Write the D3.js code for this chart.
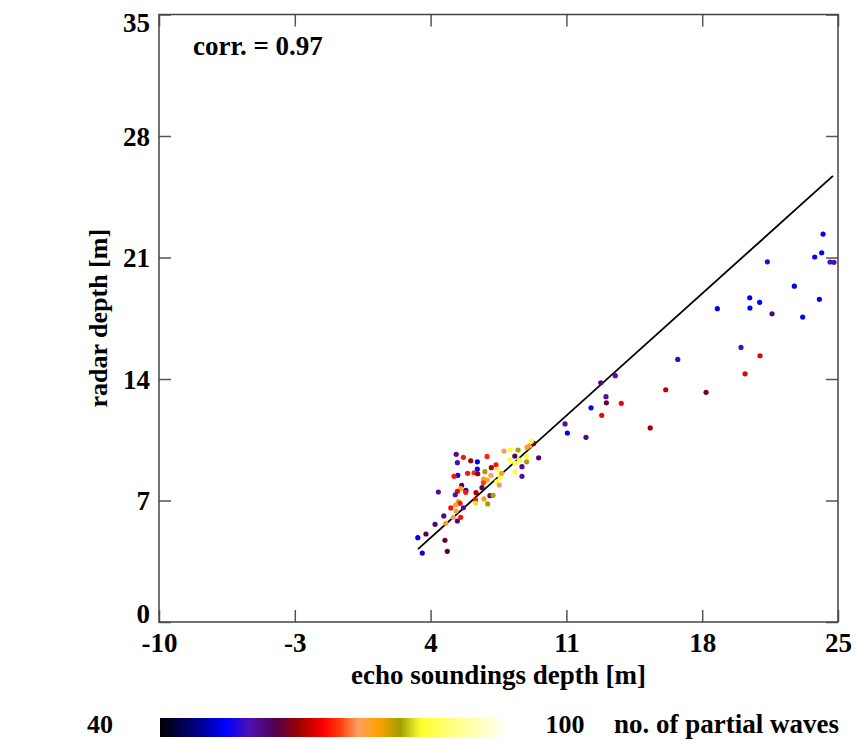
<!DOCTYPE html>
<meta charset="utf-8">
<head>
  <script src="https://d3js.org/d3.v7.min.js"></script>
  <style>
    body { margin: 0; background: #fff; }
    text { font-family: "Liberation Serif", "Times New Roman", serif; font-weight: bold; fill: #000; }
  </style>
</head>
<body>
  <div id="my_dataviz"></div>
</body>
<script>

// echo soundings depth [m]
var echoDepth = [
  24.23, 24.16, 23.80, 24.59, 24.79, 21.36, 22.75, 20.45, 20.96, 18.78,
  20.46, 24.04, 21.60, 23.18, 20.00, 20.98, 20.21, 18.20, 16.74, 16.12,
  15.32, 13.52, 12.77, 13.04, 13.06, 13.83, 12.27, 12.82, 10.93, 11.05,
  12.01, 3.34, 3.57, 3.76, 4.74, 4.86, 4.23, 4.68, 4.40, 5.32,
  5.38, 5.69, 6.07, 6.41, 6.91, 6.41, 6.24, 6.43, 5.91, 5.40,
  5.21, 7.37, 7.13, 6.80, 7.11, 6.74, 6.92, 6.72, 5.60, 5.55,
  5.38, 5.27, 5.82, 5.81, 6.34, 6.65, 7.06, 7.22, 6.75, 6.32,
  6.32, 6.94, 5.43, 5.52, 5.29, 5.69, 5.04, 5.31, 5.17, 5.55,
  5.38, 7.44, 7.58, 7.41, 7.54, 7.66, 7.78, 8.11, 8.51, 8.97,
  9.11, 9.31, 9.19, 8.34, 8.09, 8.35, 8.57, 8.95, 8.71, 8.35,
  8.71, 9.57, 8.95, 4.78
];

// radar depth [m]
var radarDepth = [
  22.35, 21.27, 21.03, 20.74, 20.72, 20.75, 19.35, 18.68, 18.42, 18.05,
  18.09, 18.59, 17.76, 17.57, 15.82, 15.34, 14.30, 13.23, 15.13, 13.38,
  11.18, 14.19, 13.78, 12.98, 12.63, 12.60, 12.34, 11.91, 11.41, 10.89,
  10.64, 4.86, 3.97, 5.07, 4.71, 4.07, 5.63, 6.11, 7.49, 9.66,
  9.18, 9.49, 9.29, 9.23, 9.54, 8.81, 8.60, 8.54, 8.57, 8.45,
  8.39, 9.06, 8.89, 8.66, 8.45, 8.24, 8.18, 8.02, 7.87, 7.68,
  7.53, 7.33, 7.59, 7.47, 7.45, 7.74, 7.28, 7.30, 7.09, 7.03,
  6.85, 6.80, 6.93, 6.84, 6.74, 6.58, 6.57, 6.39, 6.03, 6.03,
  5.82, 8.80, 8.37, 8.08, 7.89, 8.57, 9.85, 9.91, 9.91, 10.06,
  10.16, 10.29, 10.41, 9.56, 9.33, 9.14, 9.33, 9.23, 8.95, 8.66,
  8.39, 9.46, 9.56, 5.69
];

// no. of partial waves
var partialWaves = [
  51, 51, 52, 55, 55, 54, 51, 51, 51, 51,
  51, 51, 58, 51, 55, 67, 67, 62, 54, 65,
  64, 56, 57, 56, 61, 68, 51, 68, 56, 51,
  58, 51, 51, 60, 61, 60, 58, 58, 56, 57,
  55, 69, 64, 51, 70, 51, 70, 63, 69, 51,
  69, 69, 65, 81, 74, 77, 76, 71, 59, 76,
  68, 56, 51, 69, 64, 59, 58, 81, 77, 69,
  84, 81, 77, 69, 76, 57, 69, 76, 75, 69,
  58, 85, 85, 86, 74, 77, 74, 85, 81, 77,
  76, 61, 85, 59, 85, 86, 85, 81, 57, 86,
  56, 58, 85, 77
];

// regression line end points
var fitX = [3.35, 24.74];
var fitY = [4.2, 25.7];

var xTicks = [-10, -3, 4, 11, 18, 25];
var yTicks = [0, 7, 14, 21, 28, 35];
var corrLabel = "corr. = 0.97";

// colour map (fraction of the 40..100 range)
var cmapStops = [0, 0.10, 0.19, 0.26, 0.33, 0.40, 0.47, 0.52, 0.57, 0.63, 0.69, 0.75, 0.86, 1];
var cmapColors = ["#000000", "#000080", "#0000ff", "#5010b0", "#500050", "#a00000", "#ff0000",
  "#ff4010", "#ffa060", "#ffa000", "#a0a000", "#ffff30", "#ffff90", "#ffffff"];
var cMin = 40, cMax = 100;

var W = 855, H = 740;
var margin = { top: 14.5, right: 17, bottom: 118, left: 159 };
var width = W - margin.left - margin.right,
  height = H - margin.top - margin.bottom;

var svg = d3.select("#my_dataviz")
  .append("svg")
  .attr("width", W)
  .attr("height", H);

var g = svg.append("g")
  .attr("transform", "translate(" + margin.left + "," + margin.top + ")");

var x = d3.scaleLinear().domain([-10, 25]).range([0, width]);
var y = d3.scaleLinear().domain([0, 35]).range([height, 0]);
var color = d3.scaleLinear()
  .domain(cmapStops.map(function (f) { return cMin + f * (cMax - cMin); }))
  .range(cmapColors);

// plain hyphen for negatives, like the original
var fmt = function (d) { return String(d); };

// axes with inward ticks
var tickLen = 12;
var gx = g.append("g")
  .attr("transform", "translate(0," + height + ")")
  .call(d3.axisBottom(x).tickValues(xTicks).tickFormat(fmt).tickSizeInner(-tickLen).tickSizeOuter(0).tickPadding(11));
gx.selectAll("text")
  .style("font-size", "27px");

var gy = g.append("g")
  .call(d3.axisLeft(y).tickValues(yTicks).tickFormat(fmt).tickSizeInner(-tickLen).tickSizeOuter(0).tickPadding(9));
gy.selectAll("text")
  .style("font-size", "27px")
  .attr("dy", "0.34em")
  .attr("y", function (d) {
    // keep end labels inside the frame height
    var yy = y(d);
    return Math.max(8, Math.min(height - 9, yy)) - yy;
  });

g.append("g")
  .call(d3.axisTop(x).tickValues(xTicks).tickSizeInner(-tickLen).tickSizeOuter(0).tickFormat(""));
g.append("g")
  .attr("transform", "translate(" + width + ",0)")
  .call(d3.axisRight(y).tickValues(yTicks).tickSizeInner(-tickLen).tickSizeOuter(0).tickFormat(""));

g.selectAll(".domain").remove();
g.selectAll(".tick line").attr("stroke", "#555").attr("stroke-width", 1.5);
g.selectAll(".tick text").style("font-family", "'Liberation Serif', serif").style("font-weight", "bold");

// frame
g.append("rect")
  .attr("width", width)
  .attr("height", height)
  .attr("fill", "none")
  .attr("stroke", "#444")
  .attr("stroke-width", 1.5);

// regression line
g.append("line")
  .attr("x1", x(fitX[0])).attr("y1", y(fitY[0]))
  .attr("x2", x(fitX[1])).attr("y2", y(fitY[1]))
  .attr("stroke", "#000")
  .attr("stroke-width", 1.8);

// points
var pts = echoDepth.map(function (d, i) {
  return { x: d, y: radarDepth[i], v: partialWaves[i] };
});
g.selectAll("mydots")
  .data(pts)
  .enter()
  .append("circle")
  .attr("cx", function (d) { return x(d.x); })
  .attr("cy", function (d) { return y(d.y); })
  .attr("r", 2.6)
  .attr("fill", function (d) { return color(d.v); });

g.append("text")
  .attr("x", 34)
  .attr("y", 40)
  .style("font-size", "27px")
  .text(corrLabel);

// axis titles
svg.append("text")
  .attr("x", margin.left + width / 2)
  .attr("y", 684)
  .attr("text-anchor", "middle")
  .style("font-size", "27px")
  .text("echo soundings depth [m]");

svg.append("text")
  .attr("transform", "translate(107," + (margin.top + height / 2) + ")rotate(-90)")
  .attr("text-anchor", "middle")
  .style("font-size", "26px")
  .text("radar depth [m]");

// colour bar
var defs = svg.append("defs");
var grad = defs.append("linearGradient").attr("id", "cbar");
grad.selectAll("stop")
  .data(cmapStops)
  .enter()
  .append("stop")
  .attr("offset", function (d) { return d; })
  .attr("stop-color", function (d, i) { return cmapColors[i]; });

var cb = d3.scaleLinear().domain([cMin, cMax]).range([160, 508]);
svg.append("rect")
  .attr("x", cb(cMin))
  .attr("y", 718)
  .attr("width", cb(cMax) - cb(cMin))
  .attr("height", 19)
  .attr("fill", "url(#cbar)");

svg.append("text")
  .attr("x", 100).attr("y", 733)
  .attr("text-anchor", "middle")
  .style("font-size", "26px")
  .text(cMin);
svg.append("text")
  .attr("x", 565).attr("y", 733)
  .attr("text-anchor", "middle")
  .style("font-size", "26px")
  .text(cMax);
svg.append("text")
  .attr("x", 614).attr("y", 733)
  .style("font-size", "27px")
  .text("no. of partial waves");

</script>
